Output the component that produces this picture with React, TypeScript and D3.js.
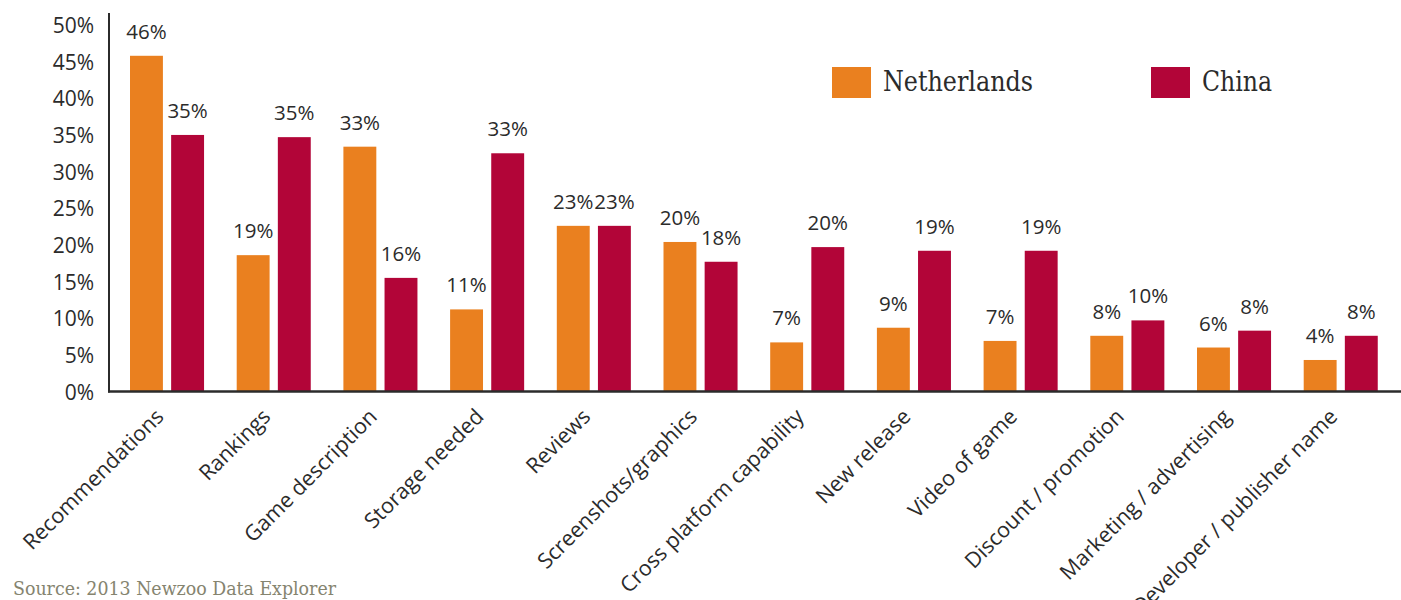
import React, { useRef, useEffect } from "react";
import * as d3 from "d3";

const categories = [
  "Recommendations",
  "Rankings",
  "Game description",
  "Storage needed",
  "Reviews",
  "Screenshots/graphics",
  "Cross platform capability",
  "New release",
  "Video of game",
  "Discount / promotion",
  "Marketing / advertising",
  "Developer / publisher name",
];
const netherlands = [45.8, 18.6, 33.4, 11.2, 22.6, 20.4, 6.7, 8.7, 6.9, 7.6, 6.0, 4.3];
const china = [35.0, 34.7, 15.5, 32.5, 22.6, 17.7, 19.7, 19.2, 19.2, 9.7, 8.3, 7.6];
const seriesNames = ["Netherlands", "China"];
const colors = ["#EA801F", "#B20538"];
const yTicks = [0, 5, 10, 15, 20, 25, 30, 35, 40, 45, 50];

const W = 1401;
const H = 600;
const sans = "'Open Sans', sans-serif";
const slab = "'DejaVu Serif Condensed', 'DejaVu Serif', serif";

const App = () => {
  const svgRef = useRef(null);

  useEffect(() => {
    const svg = d3.select(svgRef.current);
    svg.selectAll("*").remove();

    var axisX = 109;
    var y = d3.scaleLinear().domain([0, 50]).range([391.5, 25]);

    // outer bands = category groups, inner = the two countries
    var x0 = d3
      .scaleBand()
      .domain(categories)
      .range([97.35, 1410.4])
      .padding(0.306);
    var x1 = d3
      .scaleBand()
      .domain(seriesNames)
      .range([0, x0.bandwidth()])
      .paddingInner(0.2);

    var rows = categories.map((c, i) => ({
      cat: c,
      vals: [
        { s: seriesNames[0], v: netherlands[i], c: colors[0] },
        { s: seriesNames[1], v: china[i], c: colors[1] },
      ],
    }));

    var g = svg
      .selectAll("g.grp")
      .data(rows)
      .enter()
      .append("g")
      .attr("class", "grp")
      .attr("transform", (d) => "translate(" + x0(d.cat) + ",0)");

    g.selectAll("rect")
      .data((d) => d.vals)
      .enter()
      .append("rect")
      .attr("x", (d) => x1(d.s))
      .attr("y", (d) => y(d.v))
      .attr("width", x1.bandwidth())
      .attr("height", (d) => y(0) - y(d.v))
      .style("fill", (d) => d.c);

    g.selectAll("text.val")
      .data((d) => d.vals)
      .enter()
      .append("text")
      .attr("class", "val")
      .attr("x", (d) => x1(d.s) + x1.bandwidth() / 2)
      .attr("y", (d) => y(d.v) - 17)
      .attr("text-anchor", "middle")
      .attr("font-family", sans)
      .attr("font-size", 20.5)
      .style("fill", "#2b2b2b")
      .text((d) => Math.round(d.v) + "%");

    // y tick labels
    svg
      .selectAll("text.ytick")
      .data(yTicks)
      .enter()
      .append("text")
      .attr("class", "ytick")
      .attr("x", 94)
      .attr("y", (d) => y(d) + 8)
      .attr("text-anchor", "end")
      .attr("font-family", sans)
      .attr("font-size", 21)
      .style("fill", "#2b2b2b")
      .text((d) => d + "%");

    // axis lines
    svg
      .append("line")
      .attr("x1", axisX)
      .attr("x2", axisX)
      .attr("y1", 13)
      .attr("y2", y(0) + 1)
      .style("stroke", "#2b2b2b")
      .style("stroke-width", 2);
    svg
      .append("line")
      .attr("x1", axisX - 1)
      .attr("x2", W)
      .attr("y1", y(0))
      .attr("y2", y(0))
      .style("stroke", "#2b2b2b")
      .style("stroke-width", 2.5);

    // category labels, rotated
    svg
      .selectAll("text.cat")
      .data(categories)
      .enter()
      .append("text")
      .attr("class", "cat")
      .attr("transform", (d) => "translate(" + (x0(d) + x0.bandwidth() / 2 - 2) + ",418) rotate(-45)")
      .attr("text-anchor", "end")
      .attr("font-family", sans)
      .attr("font-size", 21.5)
      .style("fill", "#2b2b2b")
      .text((d) => d);

    // legend
    var legX = [832, 1151];
    var legW = [150, 70];
    seriesNames.forEach((s, i) => {
      svg
        .append("rect")
        .attr("x", legX[i])
        .attr("y", 67)
        .attr("width", 39)
        .attr("height", 31)
        .style("fill", colors[i]);
      svg
        .append("text")
        .attr("x", legX[i] + 51)
        .attr("y", 91)
        .attr("font-family", slab)
        .attr("font-size", 27)
        .attr("textLength", legW[i])
        .attr("lengthAdjust", "spacingAndGlyphs")
        .style("fill", "#2b2b2b")
        .text(s);
    });

    svg
      .append("text")
      .attr("x", 13)
      .attr("y", 595)
      .attr("font-family", slab)
      .attr("font-size", 19)
      .attr("textLength", 323)
      .attr("lengthAdjust", "spacingAndGlyphs")
      .style("fill", "#85846f")
      .text("Source: 2013 Newzoo Data Explorer");
  }, []);

  return (
    <svg
      ref={svgRef}
      width={W}
      height={H}
      style={{ position: "absolute", left: 0, top: 0, background: "#fff" }}
    />
  );
};

export default App;
